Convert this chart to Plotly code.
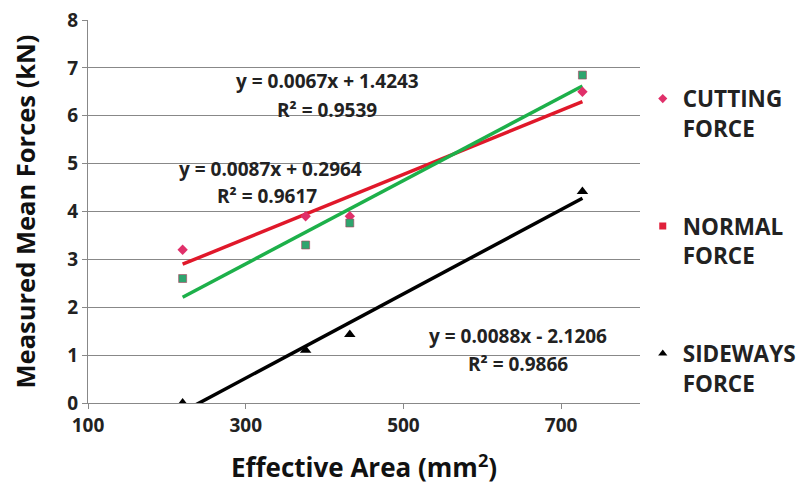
import plotly.graph_objects as go

area = [220, 376, 432, 727]
cutting = [3.2, 3.9, 3.9, 6.5]
normal = [2.6, 3.3, 3.76, 6.85]
sideways = [0.0, 1.1, 1.43, 4.42]

# trendline coefficients (slope, intercept) as printed on chart
fit_red = (0.0067, 1.4243)
fit_green = (0.0087, 0.2964)
fit_black = (0.0088, -2.1206)
eq_lines = ["y = 0.0067x + 1.4243", "R² = 0.9539",
            "y = 0.0087x + 0.2964", "R² = 0.9617",
            "y = 0.0088x - 2.1206", "R² = 0.9866"]
eq_pos = [(404, 6.72), (403, 6.13), (331, 4.89), (327, 4.32), (645, 1.41), (645, 0.81)]

legend_names = ["CUTTING<br>FORCE", "NORMAL<br>FORCE", "SIDEWAYS<br>FORCE"]

FONT = "Open Sans"
fig = go.Figure()

xs = [min(area), max(area)]
for (m, b), col in [(fit_red, "#e0182a"), (fit_green, "#1db04a"), (fit_black, "#000000")]:
    fig.add_trace(go.Scatter(x=xs, y=[m * x + b for x in xs], mode="lines",
                             line=dict(color=col, width=3.5), showlegend=False,
                             hoverinfo="skip"))

fig.add_trace(go.Scatter(x=area, y=cutting, mode="markers", showlegend=False,
                         marker=dict(symbol="diamond", size=8, color="#e0306a")))
fig.add_trace(go.Scatter(x=area, y=normal, mode="markers", showlegend=False,
                         marker=dict(symbol="square", size=8, color="#2ea56e",
                                     line=dict(color="#b04060", width=0.6))))
fig.add_trace(go.Scatter(x=area, y=sideways, mode="markers", showlegend=False,
                         marker=dict(symbol="triangle-up", size=10, color="#000000")))

# legend entries
for i, (name, sym, col, sz) in enumerate(zip(legend_names,
                                              ["diamond", "square", "triangle-up"],
                                              ["#e0306a", "#e0203a", "#000000"],
                                              [7, 7, 8])):
    fig.add_trace(go.Scatter(x=[None], y=[None], mode="markers", name=name,
                             legendgroup=f"g{i}",
                             marker=dict(symbol=sym, size=sz, color=col)))

for txt, (ax, ay) in zip(eq_lines, eq_pos):
    fig.add_annotation(x=ax, y=ay, text=txt, showarrow=False, align="center",
                       font=dict(family=FONT, size=19, color="#222", weight="bold"))

fig.update_layout(
    width=805, height=489,
    margin=dict(l=80, r=173, t=12, b=94, autoexpand=False),
    paper_bgcolor="white", plot_bgcolor="white",
    font=dict(family=FONT, color="#222"),
    legend=dict(x=1.005, y=0.85, xanchor="left", yanchor="top",
                tracegroupgap=66, valign="top", itemwidth=30,
                font=dict(family=FONT, size=22.5, weight="bold", color="#222")),
    xaxis=dict(range=[100, 800], tickvals=[100, 300, 500, 700], showgrid=False,
               showline=True, linecolor="#888", ticks="outside", ticklen=5,
               tickcolor="#888", zeroline=False, automargin=False,
               ticklabeloverflow="allow",
               tickfont=dict(family=FONT, size=19, weight="bold", color="#222"),
               title=dict(text="Effective Area (mm<sup>2</sup>)", standoff=22,
                          font=dict(family=FONT, size=26, weight="bold", color="#111"))),
    yaxis=dict(range=[0, 8], dtick=1, showgrid=True, gridcolor="#888", gridwidth=1,
               showline=True, linecolor="#888", ticks="outside", ticklen=5,
               tickcolor="#888", zeroline=False, automargin=False,
               ticklabeloverflow="allow",
               tickfont=dict(family=FONT, size=19, weight="bold", color="#222"),
               title=dict(text="Measured Mean Forces (kN)", standoff=24,
                          font=dict(family=FONT, size=25.5, weight="bold", color="#111"))),
)

fig.write_html("out.html")
